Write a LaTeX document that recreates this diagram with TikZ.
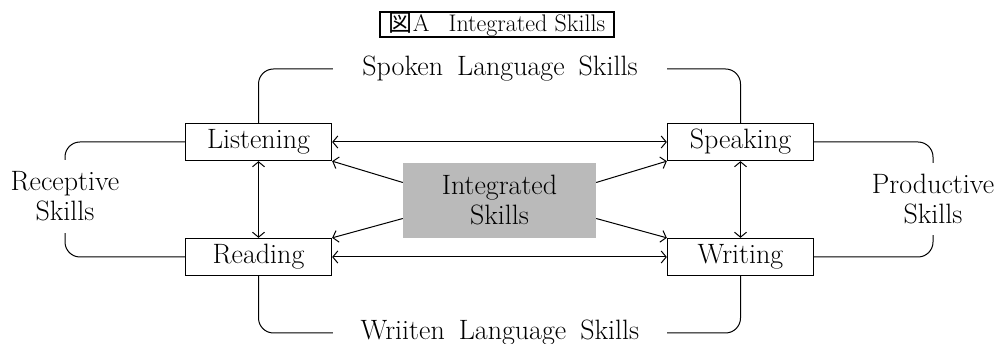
\documentclass[tikz,border=0pt]{standalone}
\usepackage{fontspec}
\newfontfamily\cjk{Noto Sans CJK JP}
\usetikzlibrary{arrows.meta}

\begin{document}
\begin{tikzpicture}[x=1pt, y=-1pt, font=\fontsize{28}{30}\selectfont,
  skill/.style={draw, line width=1.3pt, minimum width=146pt, minimum height=37pt, inner sep=0pt},
  group/.style={inner sep=0pt, align=center},
  link/.style={line width=1pt, rounded corners=15pt},
  both/.style={line width=1pt, {Straight Barb[length=5pt,width=12pt]}-{Straight Barb[length=5pt,width=12pt]}},
  one/.style={line width=1pt, -{Straight Barb[length=5pt,width=12pt]}}]
  \useasboundingbox (0,0) rectangle (999,344);
  \node (title) [draw, line width=1.6pt, minimum width=234pt, minimum height=25pt, inner sep=0pt,
    font=\fontsize{24}{26}\selectfont] at (497,24.5) {{\cjk 図}A\hspace{0.8em}Integrated Skills};
  \node (listen) [skill] at (258.5,142) {Listening};
  \node (read) [skill] at (258.5,257) {Reading};
  \node (speak) [skill] at (740.5,142) {Speaking};
  \node (write) [skill] at (740.5,257) {Writing};
  \node (integ) [group, draw=none, fill=black!27, minimum width=193pt, minimum height=75pt] at (499.5,200.5) {Integrated\\Skills};
  \node (spoken) [group, minimum width=334pt] at (500,69) {Spoken\enspace Language\enspace Skills};
  \node (written) [group, minimum width=334pt] at (500,333) {Wriiten\enspace Language\enspace Skills};
  \node (recep) [group, minimum height=73pt] at (65,196.5) {Receptive\\Skills};
  \node (produ) [group, minimum height=72pt] at (933,199) {Productive\\Skills};
  \draw[link] (listen.north) |- (spoken.west);
  \draw[link] (spoken.east) -| (speak.north);
  \draw[link] (read.south) |- (written.west);
  \draw[link] (written.east) -| (write.south);
  \draw[link] (listen.west) -| (recep.north);
  \draw[link] (recep.south) |- (read.west);
  \draw[link] (speak.east) -| (produ.north);
  \draw[link] (produ.south) |- (write.east);
  \draw[both] (listen.east) -- (speak.west);
  \draw[both] (read.east) -- (write.west);
  \draw[both] (listen.south) -- (read.north);
  \draw[both] (speak.south) -- (write.north);
  \draw[one] ([yshift=18pt]integ.west) -- (listen.south east);
  \draw[one] ([yshift=-18pt]integ.west) -- (read.north east);
  \draw[one] ([yshift=18pt]integ.east) -- (speak.south west);
  \draw[one] ([yshift=-18pt]integ.east) -- (write.north west);
\end{tikzpicture}
\end{document}
